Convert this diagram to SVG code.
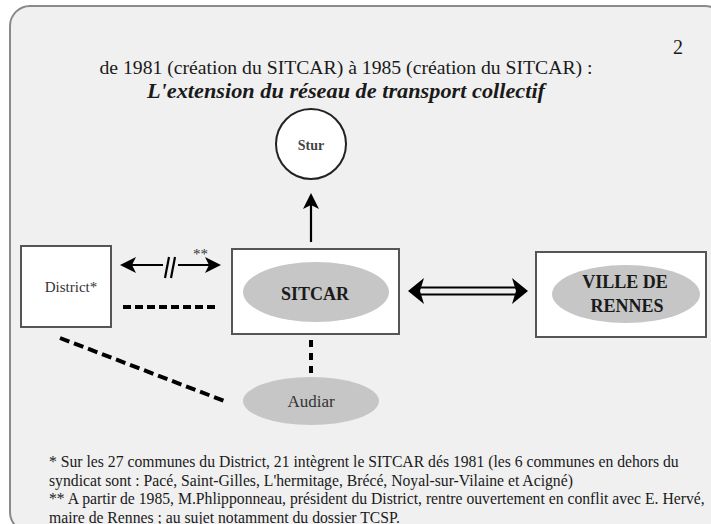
<svg xmlns="http://www.w3.org/2000/svg" width="711" height="524" viewBox="0 0 711 524">
<defs>
<style>
.t{font-family:"Liberation Serif","Times New Roman","DejaVu Serif",serif;fill:#1a1a1a}
.box{fill:#fff;stroke:#555;stroke-width:2}
.ell{fill:#c6c6c6;stroke:none}
.ln{stroke:#000;stroke-width:2.2;fill:none}
.dash{stroke:#000;stroke-width:4;fill:none}
.head{fill:#000;stroke:none}
</style>
<marker id="ah" markerUnits="userSpaceOnUse" markerWidth="16" markerHeight="16" refX="9" refY="8" orient="auto">
<path d="M0,0 L16,8 L0,16 L4,8 z" fill="#000"/>
</marker>
</defs>
<rect x="0" y="0" width="711" height="524" fill="#fff"/>
<rect x="10" y="6" width="715" height="526" rx="20" ry="20" fill="#f0f0f0" stroke="#8a8a8a" stroke-width="2"/>
<g id="title">
<text class="t" x="346" y="74" font-size="19.7" text-anchor="middle" textLength="493" lengthAdjust="spacingAndGlyphs">de 1981 (création du SITCAR) à 1985 (création du SITCAR) :</text>
<text class="t" x="346" y="98" font-size="21" font-weight="bold" font-style="italic" text-anchor="middle" textLength="398" lengthAdjust="spacingAndGlyphs">L'extension du réseau de transport collectif</text>
<text class="t" x="673" y="54" font-size="20">2</text>
</g>
<g id="connectors">
<line class="ln" x1="311" y1="242" x2="311" y2="200" marker-end="url(#ah)"/>
<line class="ln" x1="163" y1="265" x2="127" y2="265" marker-end="url(#ah)"/>
<line class="ln" x1="178" y1="265" x2="214" y2="265" marker-end="url(#ah)"/>
<line class="ln" x1="165" y1="278" x2="169" y2="257"/>
<line class="ln" x1="171" y1="278" x2="175" y2="257"/>
<text class="t" x="193" y="259" font-size="15" style="fill:#333">**</text>
<line class="dash" x1="123" y1="307" x2="215" y2="307" stroke-dasharray="8 4"/>
<line class="dash" x1="311" y1="340" x2="311" y2="375" stroke-dasharray="7 6"/>
<line class="dash" x1="60" y1="338" x2="227" y2="402" stroke-dasharray="10 5"/>
<line class="ln" x1="418" y1="287.5" x2="518" y2="287.5" stroke-width="2.5"/>
<line class="ln" x1="418" y1="294.5" x2="518" y2="294.5" stroke-width="2.5"/>
<path class="head" d="M408,291 L424,278 L420,291 L424,304 Z"/>
<path class="head" d="M528,291 L512,278 L516,291 L512,304 Z"/>
</g>
<g id="stur">
<circle cx="311" cy="144" r="35" fill="#fff" stroke="#222" stroke-width="2"/>
<text class="t" x="311" y="150" font-size="14" font-weight="bold" text-anchor="middle" style="fill:#444">Stur</text>
</g>
<g id="district">
<rect class="box" x="21" y="246" width="90" height="81"/>
<text class="t" x="71" y="292" font-size="15" text-anchor="middle" style="fill:#333">District*</text>
</g>
<g id="sitcar">
<rect class="box" x="232" y="249" width="167" height="85"/>
<ellipse class="ell" cx="316" cy="292" rx="73" ry="30"/>
<text class="t" x="315" y="300" font-size="18" font-weight="bold" text-anchor="middle">SITCAR</text>
</g>
<g id="ville">
<rect class="box" x="536" y="252" width="170" height="85"/>
<ellipse class="ell" cx="626" cy="294" rx="74" ry="29"/>
<text class="t" x="625" y="288" font-size="18" font-weight="bold" text-anchor="middle">VILLE DE</text>
<text class="t" x="627" y="312" font-size="18" font-weight="bold" text-anchor="middle">RENNES</text>
</g>
<g id="audiar">
<ellipse class="ell" cx="311" cy="401" rx="68" ry="24"/>
<text class="t" x="311" y="407" font-size="17" text-anchor="middle" style="fill:#333">Audiar</text>
</g>
<g id="notes">
<text class="t" x="49" y="467" font-size="15.7">* Sur les 27 communes du District, 21 intègrent le SITCAR dés 1981 (les 6 communes en dehors du</text>
<text class="t" x="49" y="485.5" font-size="15.7">syndicat sont : Pacé, Saint-Gilles, L'hermitage, Brécé, Noyal-sur-Vilaine et Acigné)</text>
<text class="t" x="49" y="504" font-size="15.7">** A partir de 1985, M.Phlipponneau, président du District, rentre ouvertement en conflit avec E. Hervé,</text>
<text class="t" x="49" y="522.5" font-size="15.7">maire de Rennes ; au sujet notamment du dossier TCSP.</text>
</g>
</svg>
